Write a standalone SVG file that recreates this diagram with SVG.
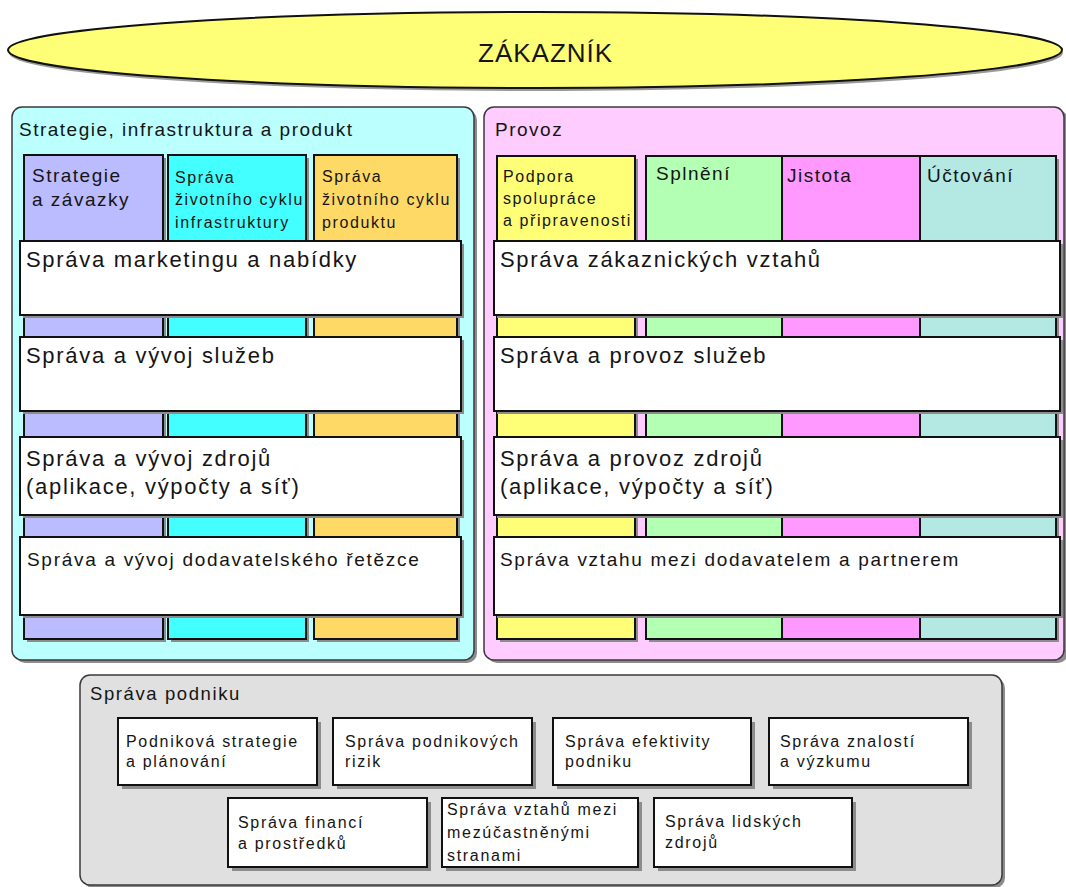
<svg xmlns="http://www.w3.org/2000/svg" width="1066" height="887" viewBox="0 0 1066 887">
<style>
text{font-family:"Liberation Sans",Arial,sans-serif;fill:#151515}
.sh{fill:#8c8c8c;stroke:none}
.panel{stroke:#3a3a3a;stroke-width:1.5}
.col{stroke:#111;stroke-width:2}
.band{fill:#fff;stroke:#111;stroke-width:2}
.box{fill:#fff;stroke:#111;stroke-width:2}
.hdr{font-size:19px;letter-spacing:1.5px}
.big{font-size:22px;letter-spacing:1.7px}
.mid{font-size:19px;letter-spacing:1.7px}
.ch{font-size:19px;letter-spacing:1.5px}
.cs{font-size:16px;letter-spacing:1.6px}
.bx{font-size:16px;letter-spacing:1.7px}
</style>
<rect width="1066" height="887" fill="#fff"/>

<g id="zakaznik">
<ellipse cx="536" cy="53" rx="527" ry="38" fill="#9a9a9a"/>
<ellipse cx="535" cy="50" rx="527" ry="38" fill="#ffff77" stroke="#111" stroke-width="2"/>
<text x="478" y="62" font-size="26" letter-spacing="1">ZÁKAZNÍK</text>
</g>

<g id="strategie-panel">
<rect class="sh" x="15" y="110" width="462" height="553" rx="10"/>
<rect class="panel" x="12" y="107" width="462" height="553" rx="10" fill="#bbffff"/>
<text class="hdr" x="19" y="136">Strategie, infrastruktura a produkt</text>
</g>

<g id="col-strategie-zavazky">
<rect class="sh" x="27" y="158" width="139" height="484"/>
<rect class="col" x="24" y="155" width="139" height="484" fill="#bbbbff"/>
<text class="ch" x="32" y="182">Strategie</text>
<text class="ch" x="32" y="206">a závazky</text>
</g>
<g id="col-infrastruktura">
<rect class="sh" x="171" y="158" width="138" height="484"/>
<rect class="col" x="168" y="155" width="138" height="484" fill="#44ffff"/>
<text class="cs" x="175" y="183">Správa</text>
<text class="cs" x="175" y="205">životního cyklu</text>
<text class="cs" x="175" y="228">infrastruktury</text>
</g>
<g id="col-produkt">
<rect class="sh" x="317" y="158" width="143" height="484"/>
<rect class="col" x="314" y="155" width="143" height="484" fill="#ffd966"/>
<text class="cs" x="322" y="182">Správa</text>
<text class="cs" x="322" y="205">životního cyklu</text>
<text class="cs" x="322" y="228">produktu</text>
</g>

<g id="band-marketing">
<rect class="sh" x="23" y="244" width="441" height="74"/>
<rect class="band" x="20" y="241" width="441" height="74"/>
<text class="big" x="26" y="267">Správa marketingu a nabídky</text>
</g>
<g id="band-sluzby-vyvoj">
<rect class="sh" x="23" y="340" width="441" height="74"/>
<rect class="band" x="20" y="337" width="441" height="74"/>
<text class="big" x="26" y="363">Správa a vývoj služeb</text>
</g>
<g id="band-zdroje-vyvoj">
<rect class="sh" x="23" y="440" width="441" height="78"/>
<rect class="band" x="20" y="437" width="441" height="78"/>
<text class="big" x="26" y="466">Správa a vývoj zdrojů</text>
<text class="big" x="26" y="494">(aplikace, výpočty a síť)</text>
</g>
<g id="band-dodavatel-vyvoj">
<rect class="sh" x="23" y="540" width="441" height="78"/>
<rect class="band" x="20" y="537" width="441" height="78"/>
<text class="mid" x="27" y="566">Správa a vývoj dodavatelského řetězce</text>
</g>

<g id="provoz-panel">
<rect class="sh" x="487" y="110" width="581" height="553" rx="10"/>
<rect class="panel" x="484" y="107" width="580" height="553" rx="10" fill="#ffccff"/>
<text class="hdr" x="495" y="136">Provoz</text>
</g>

<g id="col-podpora">
<rect class="sh" x="500" y="159" width="138" height="483"/>
<rect class="col" x="497" y="156" width="138" height="483" fill="#ffff77"/>
<text class="cs" x="503" y="182">Podpora</text>
<text class="cs" x="503" y="204">spolupráce</text>
<text class="cs" x="503" y="226">a připravenosti</text>
</g>
<g id="col-group-shadow">
<rect class="sh" x="649" y="159" width="410" height="483"/>
</g>
<g id="col-splneni">
<rect class="col" x="646" y="156" width="136" height="483" fill="#b3ffb3"/>
<text class="ch" x="656" y="180">Splnění</text>
</g>
<g id="col-jistota">
<rect class="col" x="782" y="156" width="138" height="483" fill="#ff99ff"/>
<text class="ch" x="787" y="182">Jistota</text>
</g>
<g id="col-uctovani">
<rect class="col" x="920" y="156" width="136" height="483" fill="#b3e8e3"/>
<text class="ch" x="927" y="182">Účtování</text>
</g>

<g id="band-zakaznicke-vztahy">
<rect class="sh" x="497" y="244" width="566" height="74"/>
<rect class="band" x="494" y="241" width="566" height="74"/>
<text class="big" x="500" y="267">Správa zákaznických vztahů</text>
</g>
<g id="band-sluzby-provoz">
<rect class="sh" x="497" y="340" width="566" height="74"/>
<rect class="band" x="494" y="337" width="566" height="74"/>
<text class="big" x="500" y="363">Správa a provoz služeb</text>
</g>
<g id="band-zdroje-provoz">
<rect class="sh" x="497" y="440" width="566" height="78"/>
<rect class="band" x="494" y="437" width="566" height="78"/>
<text class="big" x="500" y="466">Správa a provoz zdrojů</text>
<text class="big" x="500" y="494">(aplikace, výpočty a síť)</text>
</g>
<g id="band-dodavatel-partner">
<rect class="sh" x="497" y="540" width="566" height="78"/>
<rect class="band" x="494" y="537" width="566" height="78"/>
<text class="mid" x="500" y="566">Správa vztahu mezi dodavatelem a partnerem</text>
</g>

<g id="sprava-podniku-panel">
<rect class="sh" x="83" y="678" width="922" height="210" rx="10"/>
<rect class="panel" x="80" y="675" width="922" height="210" rx="10" fill="#e0e0e0"/>
<text x="90" y="700" font-size="18.5" letter-spacing="1.6">Správa podniku</text>
</g>

<g id="box-strategie-planovani">
<rect class="sh" x="122" y="722" width="199" height="67"/>
<rect class="box" x="118" y="718" width="199" height="67"/>
<text class="bx" x="126" y="747">Podniková strategie</text>
<text class="bx" x="126" y="767">a plánování</text>
</g>
<g id="box-rizika">
<rect class="sh" x="337" y="722" width="199" height="67"/>
<rect class="box" x="333" y="718" width="199" height="67"/>
<text class="bx" x="345" y="747">Správa podnikových</text>
<text class="bx" x="345" y="767">rizik</text>
</g>
<g id="box-efektivita">
<rect class="sh" x="557" y="722" width="198" height="67"/>
<rect class="box" x="553" y="718" width="198" height="67"/>
<text class="bx" x="565" y="747">Správa efektivity</text>
<text class="bx" x="565" y="767">podniku</text>
</g>
<g id="box-znalosti">
<rect class="sh" x="773" y="722" width="199" height="67"/>
<rect class="box" x="769" y="718" width="199" height="67"/>
<text class="bx" x="780" y="747">Správa znalostí</text>
<text class="bx" x="780" y="767">a výzkumu</text>
</g>
<g id="box-finance">
<rect class="sh" x="232" y="802" width="199" height="69"/>
<rect class="box" x="228" y="798" width="199" height="69"/>
<text class="bx" x="238" y="828">Správa financí</text>
<text class="bx" x="238" y="849">a prostředků</text>
</g>
<g id="box-zucastnene-strany">
<rect class="sh" x="446" y="802" width="196" height="69"/>
<rect class="box" x="442" y="798" width="196" height="69"/>
<text class="bx" x="447" y="815">Správa vztahů mezi</text>
<text class="bx" x="447" y="838">mezúčastněnými</text>
<text class="bx" x="447" y="861">stranami</text>
</g>
<g id="box-lidske-zdroje">
<rect class="sh" x="658" y="802" width="198" height="69"/>
<rect class="box" x="654" y="798" width="198" height="69"/>
<text class="bx" x="665" y="827">Správa lidských</text>
<text class="bx" x="665" y="848">zdrojů</text>
</g>

<g id="connectors"/>
</svg>
